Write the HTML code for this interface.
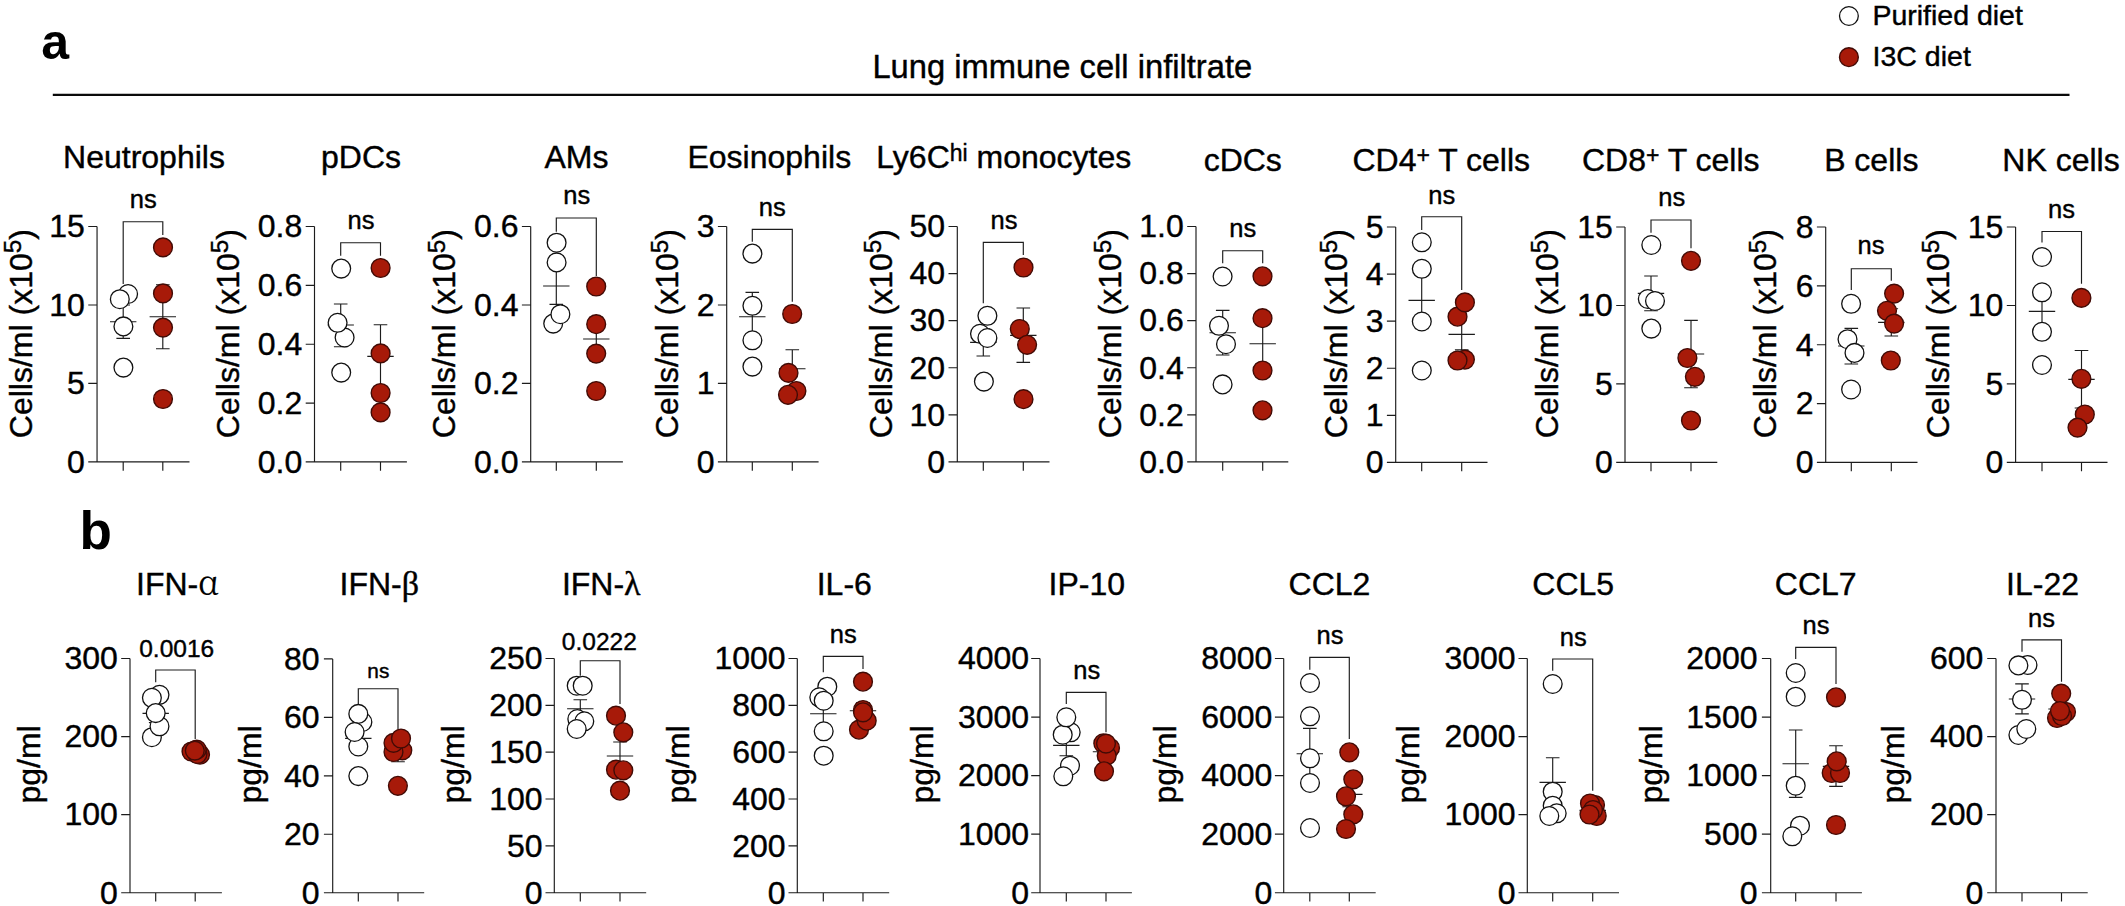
<!DOCTYPE html>
<html lang="en"><head><meta charset="utf-8"><title>Lung immune cell infiltrate</title>
<style>
html,body{margin:0;padding:0;background:#fff}
body{width:2125px;height:906px;overflow:hidden}
svg{display:block;font-family:"Liberation Sans",Arial,sans-serif;fill:#000}
text{stroke:#000;stroke-width:0.4px}
.t{font-size:32px}
.k{font-size:32.0px}
.y{font-size:32px}
.l{fill:none;stroke:#1c1c1c;stroke-width:1.15}
.w{fill:#fff;stroke:#111;stroke-width:1.3}
.r{fill:#a71a09;stroke:#420b06;stroke-width:1.4}
.lg{font-size:28.5px}
.pn{font-weight:bold;stroke:none}
</style></head><body>
<svg width="2125" height="906" viewBox="0 0 2125 906">
<rect width="2125" height="906" fill="#fff"/>
<text class="pn" x="41.3" y="59.2" font-size="50">a</text>
<text class="pn" x="79.6" y="548.5" font-size="53">b</text>
<text class="t" x="1062.3" y="77.5" style="font-size:32.7px" text-anchor="middle">Lung immune cell infiltrate</text>
<path d="M52.8 94.9H2069.5" stroke="#0a0a0a" stroke-width="2.1" fill="none"/>
<circle class="w" cx="1848.9" cy="16" r="9.4"/>
<circle class="r" cx="1848.9" cy="57.2" r="9.4"/>
<text class="lg" x="1872.4" y="25.3">Purified diet</text>
<text class="lg" x="1872.6" y="66.3">I3C diet</text>
<g><text class="t" x="144" y="168.2" text-anchor="middle">Neutrophils</text><path class="l" d="M97.05 226.5V461.9M88.25 461.9H189.5M88.25 226.5H97.05M88.25 304.97H97.05M88.25 383.43H97.05M123.2 461.9v8.8M162.8 461.9v8.8"/><text class="k" x="84.85" y="237.3" text-anchor="end">15</text><text class="k" x="84.85" y="315.77" text-anchor="end">10</text><text class="k" x="84.85" y="394.23" text-anchor="end">5</text><text class="k" x="84.85" y="472.7" text-anchor="end">0</text><text class="y" transform="translate(31.6 438.2) rotate(-90)">Cells/ml (x10<tspan font-size="24.5" dy="-10.5">5</tspan><tspan dy="10.5">)</tspan></text><path class="l" d="M110 321.7h26.4M123.2 305V338.3M116.4 305h13.6M116.4 338.3h13.6M149.6 316.7h26.4M162.8 284.7V348.7M156 284.7h13.6M156 348.7h13.6"/><path class="l" d="M123.2 284V221.7H162.8V235"/><circle class="w" cx="128.1" cy="294" r="9.4"/><circle class="w" cx="119.8" cy="299.2" r="9.4"/><circle class="w" cx="123.4" cy="326.4" r="9.4"/><circle class="w" cx="123.4" cy="367.6" r="9.4"/><circle class="r" cx="163" cy="247.4" r="9.4"/><circle class="r" cx="163" cy="293.4" r="9.4"/><circle class="r" cx="163" cy="327.6" r="9.4"/><circle class="r" cx="163" cy="399" r="9.4"/><text class="s" x="143.3" y="207.5" font-size="25.5" text-anchor="middle">ns</text></g>
<g><text class="t" x="361" y="168.2" text-anchor="middle">pDCs</text><path class="l" d="M314.5 226.5V461.9M305.7 461.9H406.9M305.7 226.5H314.5M305.7 285.35H314.5M305.7 344.2H314.5M305.7 403.05H314.5M340.7 461.9v8.8M380.5 461.9v8.8"/><text class="k" x="302.3" y="237.3" text-anchor="end">0.8</text><text class="k" x="302.3" y="296.15" text-anchor="end">0.6</text><text class="k" x="302.3" y="355" text-anchor="end">0.4</text><text class="k" x="302.3" y="413.85" text-anchor="end">0.2</text><text class="k" x="302.3" y="472.7" text-anchor="end">0.0</text><text class="y" transform="translate(238.6 438.2) rotate(-90)">Cells/ml (x10<tspan font-size="24.5" dy="-10.5">5</tspan><tspan dy="10.5">)</tspan></text><path class="l" d="M327.5 325h26.4M340.7 304V346.7M333.9 304h13.6M333.9 346.7h13.6M367.3 356.3h26.4M380.5 324.7V388M373.7 324.7h13.6M373.7 388h13.6"/><path class="l" d="M340.7 255.7V242.7H380.5V255.7"/><circle class="w" cx="341.2" cy="268.6" r="9.4"/><circle class="w" cx="344.6" cy="337.5" r="9.4"/><circle class="w" cx="337.6" cy="322.8" r="9.4"/><circle class="w" cx="341.2" cy="372.6" r="9.4"/><circle class="r" cx="380.6" cy="268" r="9.4"/><circle class="r" cx="380.6" cy="353.4" r="9.4"/><circle class="r" cx="380.6" cy="393" r="9.4"/><circle class="r" cx="380.6" cy="412.4" r="9.4"/><text class="s" x="361" y="229.1" font-size="25.5" text-anchor="middle">ns</text></g>
<g><text class="t" x="576.5" y="168.2" text-anchor="middle">AMs</text><path class="l" d="M530.7 226.5V461.9M521.9 461.9H622.9M521.9 226.5H530.7M521.9 304.97H530.7M521.9 383.43H530.7M556.3 461.9v8.8M596.3 461.9v8.8"/><text class="k" x="518.5" y="237.3" text-anchor="end">0.6</text><text class="k" x="518.5" y="315.77" text-anchor="end">0.4</text><text class="k" x="518.5" y="394.23" text-anchor="end">0.2</text><text class="k" x="518.5" y="472.7" text-anchor="end">0.0</text><text class="y" transform="translate(455.4 438.2) rotate(-90)">Cells/ml (x10<tspan font-size="24.5" dy="-10.5">5</tspan><tspan dy="10.5">)</tspan></text><path class="l" d="M543.1 286h26.4M556.3 267.7V304.3M549.5 267.7h13.6M549.5 304.3h13.6M583.1 339h26.4M596.3 317V361M589.5 317h13.6M589.5 361h13.6"/><path class="l" d="M556.3 231.7V218H596.3V276"/><circle class="w" cx="556.6" cy="242.7" r="9.4"/><circle class="w" cx="556.6" cy="262.4" r="9.4"/><circle class="w" cx="553.2" cy="323.6" r="9.4"/><circle class="w" cx="560.4" cy="314.2" r="9.4"/><circle class="r" cx="596.2" cy="286.5" r="9.4"/><circle class="r" cx="596.2" cy="324.2" r="9.4"/><circle class="r" cx="596.2" cy="353.6" r="9.4"/><circle class="r" cx="596.2" cy="391" r="9.4"/><text class="s" x="576.7" y="203.8" font-size="25.5" text-anchor="middle">ns</text></g>
<g><text class="t" x="769.3" y="168.2" text-anchor="middle">Eosinophils</text><path class="l" d="M726.7 226.5V461.9M717.9 461.9H818.6M717.9 226.5H726.7M717.9 304.97H726.7M717.9 383.43H726.7M752.3 461.9v8.8M792.3 461.9v8.8"/><text class="k" x="714.5" y="237.3" text-anchor="end">3</text><text class="k" x="714.5" y="315.77" text-anchor="end">2</text><text class="k" x="714.5" y="394.23" text-anchor="end">1</text><text class="k" x="714.5" y="472.7" text-anchor="end">0</text><text class="y" transform="translate(678 438.2) rotate(-90)">Cells/ml (x10<tspan font-size="24.5" dy="-10.5">5</tspan><tspan dy="10.5">)</tspan></text><path class="l" d="M739.1 316.7h26.4M752.3 292.3V341M745.5 292.3h13.6M745.5 341h13.6M779.1 368.7h26.4M792.3 349.7V388M785.5 349.7h13.6M785.5 388h13.6"/><path class="l" d="M752.3 241.7V229.3H792.3V301.7"/><circle class="w" cx="752.4" cy="253.6" r="9.4"/><circle class="w" cx="752.4" cy="305.8" r="9.4"/><circle class="w" cx="752.4" cy="340.3" r="9.4"/><circle class="w" cx="752.4" cy="366.6" r="9.4"/><circle class="r" cx="792.2" cy="314" r="9.4"/><circle class="r" cx="788.5" cy="372.9" r="9.4"/><circle class="r" cx="796.4" cy="391" r="9.4"/><circle class="r" cx="788" cy="394.8" r="9.4"/><text class="s" x="772.3" y="215.8" font-size="25.5" text-anchor="middle">ns</text></g>
<g><text class="t" x="1003.75" y="168.2" text-anchor="middle">Ly6C<tspan font-size="23" dy="-7.7">hi</tspan><tspan dy="7.7"> monocytes</tspan></text><path class="l" d="M957.3 226.5V461.9M948.5 461.9H1049.5M948.5 226.5H957.3M948.5 273.58H957.3M948.5 320.66H957.3M948.5 367.74H957.3M948.5 414.82H957.3M983.3 461.9v8.8M1023.3 461.9v8.8"/><text class="k" x="945.1" y="237.3" text-anchor="end">50</text><text class="k" x="945.1" y="284.38" text-anchor="end">40</text><text class="k" x="945.1" y="331.46" text-anchor="end">30</text><text class="k" x="945.1" y="378.54" text-anchor="end">20</text><text class="k" x="945.1" y="425.62" text-anchor="end">10</text><text class="k" x="945.1" y="472.7" text-anchor="end">0</text><text class="y" transform="translate(891.5 438.2) rotate(-90)">Cells/ml (x10<tspan font-size="24.5" dy="-10.5">5</tspan><tspan dy="10.5">)</tspan></text><path class="l" d="M970.1 342.3h26.4M983.3 328.7V356M976.5 328.7h13.6M976.5 356h13.6M1010.1 335.3h26.4M1023.3 308V362.3M1016.5 308h13.6M1016.5 362.3h13.6"/><path class="l" d="M983.3 303.3V242.3H1023.3V255"/><circle class="w" cx="987.4" cy="315.8" r="9.4"/><circle class="w" cx="980" cy="333.8" r="9.4"/><circle class="w" cx="987.4" cy="338" r="9.4"/><circle class="w" cx="983.9" cy="381.6" r="9.4"/><circle class="r" cx="1023.5" cy="267.5" r="9.4"/><circle class="r" cx="1019.8" cy="329" r="9.4"/><circle class="r" cx="1027.1" cy="344.8" r="9.4"/><circle class="r" cx="1023.5" cy="399.2" r="9.4"/><text class="s" x="1004" y="229.1" font-size="25.5" text-anchor="middle">ns</text></g>
<g><text class="t" x="1242.75" y="171.1" text-anchor="middle">cDCs</text><path class="l" d="M1196 226.5V461.9M1187.2 461.9H1288.3M1187.2 226.5H1196M1187.2 273.58H1196M1187.2 320.66H1196M1187.2 367.74H1196M1187.2 414.82H1196M1222.7 461.9v8.8M1262.7 461.9v8.8"/><text class="k" x="1183.8" y="237.3" text-anchor="end">1.0</text><text class="k" x="1183.8" y="284.38" text-anchor="end">0.8</text><text class="k" x="1183.8" y="331.46" text-anchor="end">0.6</text><text class="k" x="1183.8" y="378.54" text-anchor="end">0.4</text><text class="k" x="1183.8" y="425.62" text-anchor="end">0.2</text><text class="k" x="1183.8" y="472.7" text-anchor="end">0.0</text><text class="y" transform="translate(1121 438.2) rotate(-90)">Cells/ml (x10<tspan font-size="24.5" dy="-10.5">5</tspan><tspan dy="10.5">)</tspan></text><path class="l" d="M1209.5 332.7h26.4M1222.7 310.3V355M1215.9 310.3h13.6M1215.9 355h13.6M1249.5 343.7h26.4M1262.7 317V370M1255.9 317h13.6M1255.9 370h13.6"/><path class="l" d="M1222.7 263.3V250.7H1262.7V263.3"/><circle class="w" cx="1222.6" cy="276.5" r="9.4"/><circle class="w" cx="1226" cy="344.2" r="9.4"/><circle class="w" cx="1219" cy="325.8" r="9.4"/><circle class="w" cx="1222.6" cy="384.4" r="9.4"/><circle class="r" cx="1262.5" cy="276.3" r="9.4"/><circle class="r" cx="1262.5" cy="318.2" r="9.4"/><circle class="r" cx="1262.5" cy="370.5" r="9.4"/><circle class="r" cx="1262.5" cy="410.3" r="9.4"/><text class="s" x="1242.7" y="236.8" font-size="25.5" text-anchor="middle">ns</text></g>
<g><text class="t" x="1441.25" y="171.1" text-anchor="middle">CD4<tspan font-size="23" dy="-8.5">+</tspan><tspan dy="8.5"> T cells</tspan></text><path class="l" d="M1395.7 227V462.4M1386.9 462.4H1487.5M1386.9 227H1395.7M1386.9 274.08H1395.7M1386.9 321.16H1395.7M1386.9 368.24H1395.7M1386.9 415.32H1395.7M1421.7 462.4v8.8M1461.7 462.4v8.8"/><text class="k" x="1383.5" y="237.8" text-anchor="end">5</text><text class="k" x="1383.5" y="284.88" text-anchor="end">4</text><text class="k" x="1383.5" y="331.96" text-anchor="end">3</text><text class="k" x="1383.5" y="379.04" text-anchor="end">2</text><text class="k" x="1383.5" y="426.12" text-anchor="end">1</text><text class="k" x="1383.5" y="473.2" text-anchor="end">0</text><text class="y" transform="translate(1347 438.2) rotate(-90)">Cells/ml (x10<tspan font-size="24.5" dy="-10.5">5</tspan><tspan dy="10.5">)</tspan></text><path class="l" d="M1408.5 300.3h26.4M1421.7 272V328.6M1414.9 272h13.6M1414.9 328.6h13.6M1448.5 334.3h26.4M1461.7 319V349.8M1454.9 349.8h13.6"/><path class="l" d="M1421.7 230V216.7H1461.7V290"/><circle class="w" cx="1421.8" cy="242.3" r="9.4"/><circle class="w" cx="1421.8" cy="268.8" r="9.4"/><circle class="w" cx="1421.8" cy="321.5" r="9.4"/><circle class="w" cx="1421.8" cy="370.5" r="9.4"/><circle class="r" cx="1457.5" cy="316.7" r="9.4"/><circle class="r" cx="1464.9" cy="302.4" r="9.4"/><circle class="r" cx="1464.9" cy="359.6" r="9.4"/><circle class="r" cx="1457.5" cy="360.5" r="9.4"/><text class="s" x="1441.7" y="204.1" font-size="25.5" text-anchor="middle">ns</text></g>
<g><text class="t" x="1670.75" y="171.1" text-anchor="middle">CD8<tspan font-size="23" dy="-8.5">+</tspan><tspan dy="8.5"> T cells</tspan></text><path class="l" d="M1625 227V462.4M1616.2 462.4H1717.3M1616.2 227H1625M1616.2 305.47H1625M1616.2 383.93H1625M1651 462.4v8.8M1691 462.4v8.8"/><text class="k" x="1612.8" y="237.8" text-anchor="end">15</text><text class="k" x="1612.8" y="316.27" text-anchor="end">10</text><text class="k" x="1612.8" y="394.73" text-anchor="end">5</text><text class="k" x="1612.8" y="473.2" text-anchor="end">0</text><text class="y" transform="translate(1558.3 438.2) rotate(-90)">Cells/ml (x10<tspan font-size="24.5" dy="-10.5">5</tspan><tspan dy="10.5">)</tspan></text><path class="l" d="M1637.8 293.3h26.4M1651 276V310.7M1644.2 276h13.6M1644.2 310.7h13.6M1677.8 354h26.4M1691 320.3V387.7M1684.2 320.3h13.6M1684.2 387.7h13.6"/><path class="l" d="M1651 232.7V220H1691V248.3"/><circle class="w" cx="1651.3" cy="245" r="9.4"/><circle class="w" cx="1647.8" cy="299" r="9.4"/><circle class="w" cx="1655" cy="301" r="9.4"/><circle class="w" cx="1651.3" cy="328.6" r="9.4"/><circle class="r" cx="1691" cy="260.8" r="9.4"/><circle class="r" cx="1687.4" cy="358" r="9.4"/><circle class="r" cx="1694.9" cy="376.8" r="9.4"/><circle class="r" cx="1691" cy="420.5" r="9.4"/><text class="s" x="1671.7" y="205.8" font-size="25.5" text-anchor="middle">ns</text></g>
<g><text class="t" x="1871.25" y="171.1" text-anchor="middle">B cells</text><path class="l" d="M1825.7 227V462.4M1816.9 462.4H1917.5M1816.9 227H1825.7M1816.9 285.85H1825.7M1816.9 344.7H1825.7M1816.9 403.55H1825.7M1851.3 462.4v8.8M1891.3 462.4v8.8"/><text class="k" x="1813.5" y="237.8" text-anchor="end">8</text><text class="k" x="1813.5" y="296.65" text-anchor="end">6</text><text class="k" x="1813.5" y="355.5" text-anchor="end">4</text><text class="k" x="1813.5" y="414.35" text-anchor="end">2</text><text class="k" x="1813.5" y="473.2" text-anchor="end">0</text><text class="y" transform="translate(1776.3 438.2) rotate(-90)">Cells/ml (x10<tspan font-size="24.5" dy="-10.5">5</tspan><tspan dy="10.5">)</tspan></text><path class="l" d="M1838.1 346h26.4M1851.3 328.3V364M1844.5 328.3h13.6M1844.5 364h13.6M1878.1 322.3h26.4M1891.3 308.7V336M1884.5 308.7h13.6M1884.5 336h13.6"/><path class="l" d="M1851.3 290V268.7H1891.3V280.7"/><circle class="w" cx="1851.1" cy="303.8" r="9.4"/><circle class="w" cx="1847.5" cy="339.2" r="9.4"/><circle class="w" cx="1854.5" cy="352.9" r="9.4"/><circle class="w" cx="1851.1" cy="389.5" r="9.4"/><circle class="r" cx="1894.1" cy="293.6" r="9.4"/><circle class="r" cx="1887" cy="310.8" r="9.4"/><circle class="r" cx="1894.1" cy="323.6" r="9.4"/><circle class="r" cx="1890.8" cy="360.5" r="9.4"/><text class="s" x="1871" y="254.1" font-size="25.5" text-anchor="middle">ns</text></g>
<g><text class="t" x="2061" y="171.1" text-anchor="middle">NK cells</text><path class="l" d="M2015.6 227V462.4M2006.8 462.4H2107.5M2006.8 227H2015.6M2006.8 305.47H2015.6M2006.8 383.93H2015.6M2042 462.4v8.8M2081.5 462.4v8.8"/><text class="k" x="2003.4" y="237.8" text-anchor="end">15</text><text class="k" x="2003.4" y="316.27" text-anchor="end">10</text><text class="k" x="2003.4" y="394.73" text-anchor="end">5</text><text class="k" x="2003.4" y="473.2" text-anchor="end">0</text><text class="y" transform="translate(1949.2 438.2) rotate(-90)">Cells/ml (x10<tspan font-size="24.5" dy="-10.5">5</tspan><tspan dy="10.5">)</tspan></text><path class="l" d="M2028.8 311.3h26.4M2042 288V334.6M2035.2 288h13.6M2035.2 334.6h13.6M2068.3 379.3h26.4M2081.5 350.5V408M2074.7 350.5h13.6M2074.7 408h13.6"/><path class="l" d="M2042 242.6V231.5H2081.5V283.8"/><circle class="w" cx="2042" cy="257" r="9.4"/><circle class="w" cx="2042" cy="292.3" r="9.4"/><circle class="w" cx="2042" cy="331.8" r="9.4"/><circle class="w" cx="2042" cy="365" r="9.4"/><circle class="r" cx="2081.4" cy="297.9" r="9.4"/><circle class="r" cx="2081.4" cy="378.8" r="9.4"/><circle class="r" cx="2084.8" cy="414.5" r="9.4"/><circle class="r" cx="2077.5" cy="427.6" r="9.4"/><text class="s" x="2061.5" y="217.8" font-size="25.5" text-anchor="middle">ns</text></g>
<g><text class="t" x="177.5" y="594.5" text-anchor="middle">IFN-<tspan font-family="'Noto Serif CJK SC','Liberation Serif',serif" font-size="34" stroke-width="0.2">α</tspan></text><path class="l" d="M130 658.5V892.7M121.2 892.7H221.9M121.2 658.5H130M121.2 736.57H130M121.2 814.63H130M155.7 892.7v8.8M195.2 892.7v8.8"/><text class="k" x="117.8" y="669.3" text-anchor="end">300</text><text class="k" x="117.8" y="747.37" text-anchor="end">200</text><text class="k" x="117.8" y="825.43" text-anchor="end">100</text><text class="k" x="117.8" y="903.5" text-anchor="end">0</text><text class="y" transform="translate(40 803.6) rotate(-90)">pg/ml</text><path class="l" d="M142.5 713.3h26.4M155.7 704V722.6M148.9 704h13.6M148.9 722.6h13.6M182 751.8h26.4M195.2 751V752.6M188.4 751h13.6M188.4 752.6h13.6"/><path class="l" d="M155.7 682.3V670H195.2V739"/><circle class="w" cx="151.9" cy="737.2" r="9.4"/><circle class="w" cx="159.5" cy="726.3" r="9.4"/><circle class="w" cx="159.5" cy="694.8" r="9.4"/><circle class="w" cx="151.9" cy="697.8" r="9.4"/><circle class="w" cx="155.7" cy="713.1" r="9.4"/><circle class="r" cx="200" cy="754.7" r="9.4"/><circle class="r" cx="191.5" cy="751.5" r="9.4"/><circle class="r" cx="197.5" cy="754" r="9.4"/><circle class="r" cx="196.7" cy="749.7" r="9.4"/><circle class="r" cx="194.8" cy="750.6" r="9.4"/><text class="s" x="176.7" y="657" font-size="24.5" text-anchor="middle">0.0016</text></g>
<g><text class="t" x="379.25" y="594.5" text-anchor="middle">IFN-<tspan font-family="'Liberation Serif','DejaVu Serif',serif" font-size="34">β</tspan></text><path class="l" d="M332.7 658.9V892.7M323.9 892.7H424.2M323.9 658.9H332.7M323.9 717.35H332.7M323.9 775.8H332.7M323.9 834.25H332.7M358.3 892.7v8.8M398 892.7v8.8"/><text class="k" x="319.5" y="669.7" text-anchor="end">80</text><text class="k" x="319.5" y="728.15" text-anchor="end">60</text><text class="k" x="319.5" y="786.6" text-anchor="end">40</text><text class="k" x="319.5" y="845.05" text-anchor="end">20</text><text class="k" x="319.5" y="903.5" text-anchor="end">0</text><text class="y" transform="translate(261 803.6) rotate(-90)">pg/ml</text><path class="l" d="M345.1 738.3h26.4M358.3 728V748.6M351.5 728h13.6M351.5 748.6h13.6M384.8 754h26.4M398 746.3V761.7M391.2 746.3h13.6M391.2 761.7h13.6"/><path class="l" d="M358.3 704V688.7H398V729"/><circle class="w" cx="358.3" cy="776.1" r="9.4"/><circle class="w" cx="358.3" cy="746.5" r="9.4"/><circle class="w" cx="362.4" cy="722" r="9.4"/><circle class="w" cx="358.3" cy="713.9" r="9.4"/><circle class="w" cx="354.6" cy="732" r="9.4"/><circle class="r" cx="397.9" cy="785.8" r="9.4"/><circle class="r" cx="402.3" cy="750.3" r="9.4"/><circle class="r" cx="393.5" cy="752" r="9.4"/><circle class="r" cx="393.5" cy="742.9" r="9.4"/><circle class="r" cx="401" cy="738.5" r="9.4"/><text class="s" x="378.3" y="678.1" font-size="20.8" text-anchor="middle">ns</text></g>
<g><text class="t" x="601.25" y="594.5" text-anchor="middle">IFN-<tspan font-family="'Liberation Serif','DejaVu Serif',serif" font-size="34">λ</tspan></text><path class="l" d="M554.3 658.5V892.7M545.5 892.7H646.2M545.5 658.5H554.3M545.5 705.34H554.3M545.5 752.18H554.3M545.5 799.02H554.3M545.5 845.86H554.3M580.3 892.7v8.8M620 892.7v8.8"/><text class="k" x="542.6" y="669.3" text-anchor="end">250</text><text class="k" x="542.6" y="716.14" text-anchor="end">200</text><text class="k" x="542.6" y="762.98" text-anchor="end">150</text><text class="k" x="542.6" y="809.82" text-anchor="end">100</text><text class="k" x="542.6" y="856.66" text-anchor="end">50</text><text class="k" x="542.6" y="903.5" text-anchor="end">0</text><text class="y" transform="translate(464.4 803.6) rotate(-90)">pg/ml</text><path class="l" d="M567.1 708.7h26.4M580.3 699.7V717.7M573.5 699.7h13.6M573.5 717.7h13.6M606.8 756h26.4M620 742V770M613.2 742h13.6M613.2 770h13.6"/><path class="l" d="M580.3 675.7V660.7H620V704"/><circle class="w" cx="576.7" cy="685.7" r="9.4"/><circle class="w" cx="582.7" cy="685.7" r="9.4"/><circle class="w" cx="577.3" cy="719" r="9.4"/><circle class="w" cx="584.3" cy="721.3" r="9.4"/><circle class="w" cx="576.7" cy="729" r="9.4"/><circle class="r" cx="616" cy="715.7" r="9.4"/><circle class="r" cx="623.3" cy="732.3" r="9.4"/><circle class="r" cx="616" cy="769.7" r="9.4"/><circle class="r" cx="623.3" cy="770.3" r="9.4"/><circle class="r" cx="620" cy="790.7" r="9.4"/><text class="s" x="599.3" y="650.1" font-size="24.5" text-anchor="middle">0.0222</text></g>
<g><text class="t" x="844.3" y="594.5" text-anchor="middle">IL-6</text><path class="l" d="M797.3 658.5V892.7M788.5 892.7H889.2M788.5 658.5H797.3M788.5 705.34H797.3M788.5 752.18H797.3M788.5 799.02H797.3M788.5 845.86H797.3M823.3 892.7v8.8M863 892.7v8.8"/><text class="k" x="785.6" y="669.3" text-anchor="end">1000</text><text class="k" x="785.6" y="716.14" text-anchor="end">800</text><text class="k" x="785.6" y="762.98" text-anchor="end">600</text><text class="k" x="785.6" y="809.82" text-anchor="end">400</text><text class="k" x="785.6" y="856.66" text-anchor="end">200</text><text class="k" x="785.6" y="903.5" text-anchor="end">0</text><text class="y" transform="translate(689.3 803.6) rotate(-90)">pg/ml</text><path class="l" d="M810.1 713.7h26.4M823.3 701V726.4M816.5 701h13.6M816.5 726.4h13.6M849.8 710.7h26.4M863 702.5V719M856.2 702.5h13.6M856.2 719h13.6"/><path class="l" d="M823.3 672.3V656.3H863V669"/><circle class="w" cx="827.3" cy="686.7" r="9.4"/><circle class="w" cx="819.3" cy="697.3" r="9.4"/><circle class="w" cx="823.7" cy="700.7" r="9.4"/><circle class="w" cx="823.7" cy="731.3" r="9.4"/><circle class="w" cx="823.7" cy="755.7" r="9.4"/><circle class="r" cx="863" cy="681.7" r="9.4"/><circle class="r" cx="859" cy="729.7" r="9.4"/><circle class="r" cx="866.7" cy="720.7" r="9.4"/><circle class="r" cx="863" cy="710" r="9.4"/><circle class="r" cx="863" cy="712.3" r="9.4"/><text class="s" x="843.3" y="642.9" font-size="25.5" text-anchor="middle">ns</text></g>
<g><text class="t" x="1086.75" y="594.5" text-anchor="middle">IP-10</text><path class="l" d="M1040 658.5V892.7M1031.2 892.7H1131.9M1031.2 658.5H1040M1031.2 717.05H1040M1031.2 775.6H1040M1031.2 834.15H1040M1066.3 892.7v8.8M1106 892.7v8.8"/><text class="k" x="1029.1" y="669.3" text-anchor="end">4000</text><text class="k" x="1029.1" y="727.85" text-anchor="end">3000</text><text class="k" x="1029.1" y="786.4" text-anchor="end">2000</text><text class="k" x="1029.1" y="844.95" text-anchor="end">1000</text><text class="k" x="1029.1" y="903.5" text-anchor="end">0</text><text class="y" transform="translate(933 803.6) rotate(-90)">pg/ml</text><path class="l" d="M1053.1 745.3h26.4M1066.3 735V755.7M1059.5 735h13.6M1059.5 755.7h13.6M1092.8 751.7h26.4M1106 746.5V757M1099.2 746.5h13.6M1099.2 757h13.6"/><path class="l" d="M1066.3 704V692.3H1106V732.3"/><circle class="w" cx="1070.7" cy="732.3" r="9.4"/><circle class="w" cx="1062.7" cy="734.7" r="9.4"/><circle class="w" cx="1066.3" cy="717.3" r="9.4"/><circle class="w" cx="1070" cy="765.7" r="9.4"/><circle class="w" cx="1063.3" cy="776.3" r="9.4"/><circle class="r" cx="1110" cy="748" r="9.4"/><circle class="r" cx="1103.3" cy="743.3" r="9.4"/><circle class="r" cx="1106.7" cy="755.7" r="9.4"/><circle class="r" cx="1106" cy="743.6" r="9.4"/><circle class="r" cx="1104" cy="771.3" r="9.4"/><text class="s" x="1086.7" y="678.8" font-size="25.5" text-anchor="middle">ns</text></g>
<g><text class="t" x="1329.5" y="594.5" text-anchor="middle">CCL2</text><path class="l" d="M1283.7 658.5V892.7M1274.9 892.7H1375.7M1274.9 658.5H1283.7M1274.9 717.05H1283.7M1274.9 775.6H1283.7M1274.9 834.15H1283.7M1309.8 892.7v8.8M1349.3 892.7v8.8"/><text class="k" x="1272.4" y="669.3" text-anchor="end">8000</text><text class="k" x="1272.4" y="727.85" text-anchor="end">6000</text><text class="k" x="1272.4" y="786.4" text-anchor="end">4000</text><text class="k" x="1272.4" y="844.95" text-anchor="end">2000</text><text class="k" x="1272.4" y="903.5" text-anchor="end">0</text><text class="y" transform="translate(1175.5 803.6) rotate(-90)">pg/ml</text><path class="l" d="M1296.6 753.7h26.4M1309.8 728.3V779M1303 728.3h13.6M1303 779h13.6M1336.1 794.3h26.4M1349.3 782V806.7M1342.5 806.7h13.6"/><path class="l" d="M1309.8 669.7V657.3H1349.3V739"/><circle class="w" cx="1310" cy="683" r="9.4"/><circle class="w" cx="1310" cy="716.3" r="9.4"/><circle class="w" cx="1310" cy="758.3" r="9.4"/><circle class="w" cx="1310" cy="783" r="9.4"/><circle class="w" cx="1310" cy="828" r="9.4"/><circle class="r" cx="1349.3" cy="752.3" r="9.4"/><circle class="r" cx="1353.3" cy="779.3" r="9.4"/><circle class="r" cx="1346" cy="796.3" r="9.4"/><circle class="r" cx="1353.3" cy="814.3" r="9.4"/><circle class="r" cx="1346" cy="829" r="9.4"/><text class="s" x="1330" y="644.1" font-size="25.5" text-anchor="middle">ns</text></g>
<g><text class="t" x="1573.25" y="594.5" text-anchor="middle">CCL5</text><path class="l" d="M1527.3 658.5V892.7M1518.5 892.7H1619M1518.5 658.5H1527.3M1518.5 736.57H1527.3M1518.5 814.63H1527.3M1552.7 892.7v8.8M1592.7 892.7v8.8"/><text class="k" x="1515.6" y="669.3" text-anchor="end">3000</text><text class="k" x="1515.6" y="747.37" text-anchor="end">2000</text><text class="k" x="1515.6" y="825.43" text-anchor="end">1000</text><text class="k" x="1515.6" y="903.5" text-anchor="end">0</text><text class="y" transform="translate(1419 803.6) rotate(-90)">pg/ml</text><path class="l" d="M1539.5 782.3h26.4M1552.7 757.7V807M1545.9 757.7h13.6M1545.9 807h13.6M1579.5 810.3h26.4M1592.7 807.5V813M1585.9 807.5h13.6M1585.9 813h13.6"/><path class="l" d="M1552.7 670.7V659H1592.7V790.7"/><circle class="w" cx="1552.7" cy="684" r="9.4"/><circle class="w" cx="1552.7" cy="791.7" r="9.4"/><circle class="w" cx="1552.7" cy="805.7" r="9.4"/><circle class="w" cx="1556.7" cy="813.3" r="9.4"/><circle class="w" cx="1549.3" cy="816" r="9.4"/><circle class="r" cx="1595" cy="805" r="9.4"/><circle class="r" cx="1590" cy="803.5" r="9.4"/><circle class="r" cx="1596.7" cy="816" r="9.4"/><circle class="r" cx="1593" cy="810" r="9.4"/><circle class="r" cx="1589.5" cy="814.5" r="9.4"/><text class="s" x="1573.3" y="645.5" font-size="25.5" text-anchor="middle">ns</text></g>
<g><text class="t" x="1815.75" y="594.5" text-anchor="middle">CCL7</text><path class="l" d="M1770.7 658.5V892.7M1761.9 892.7H1861.9M1761.9 658.5H1770.7M1761.9 717.05H1770.7M1761.9 775.6H1770.7M1761.9 834.15H1770.7M1795.7 892.7v8.8M1836 892.7v8.8"/><text class="k" x="1757.5" y="669.3" text-anchor="end">2000</text><text class="k" x="1757.5" y="727.85" text-anchor="end">1500</text><text class="k" x="1757.5" y="786.4" text-anchor="end">1000</text><text class="k" x="1757.5" y="844.95" text-anchor="end">500</text><text class="k" x="1757.5" y="903.5" text-anchor="end">0</text><text class="y" transform="translate(1662 803.6) rotate(-90)">pg/ml</text><path class="l" d="M1782.5 763.7h26.4M1795.7 730V797.3M1788.9 730h13.6M1788.9 797.3h13.6M1822.8 766.3h26.4M1836 745.7V786.3M1829.2 745.7h13.6M1829.2 786.3h13.6"/><path class="l" d="M1795.7 659V647.3H1836V684"/><circle class="w" cx="1795.7" cy="673" r="9.4"/><circle class="w" cx="1795.7" cy="696.7" r="9.4"/><circle class="w" cx="1795.7" cy="785.7" r="9.4"/><circle class="w" cx="1800" cy="825.7" r="9.4"/><circle class="w" cx="1792.3" cy="836.3" r="9.4"/><circle class="r" cx="1836" cy="697.3" r="9.4"/><circle class="r" cx="1831.7" cy="773" r="9.4"/><circle class="r" cx="1840" cy="773" r="9.4"/><circle class="r" cx="1836.7" cy="761.3" r="9.4"/><circle class="r" cx="1836" cy="825" r="9.4"/><text class="s" x="1816" y="634.1" font-size="25.5" text-anchor="middle">ns</text></g>
<g><text class="t" x="2042.5" y="594.5" text-anchor="middle">IL-22</text><path class="l" d="M1996 658.5V892.7M1987.2 892.7H2087.7M1987.2 658.5H1996M1987.2 736.57H1996M1987.2 814.63H1996M2022 892.7v8.8M2061.5 892.7v8.8"/><text class="k" x="1983.3" y="669.3" text-anchor="end">600</text><text class="k" x="1983.3" y="747.37" text-anchor="end">400</text><text class="k" x="1983.3" y="825.43" text-anchor="end">200</text><text class="k" x="1983.3" y="903.5" text-anchor="end">0</text><text class="y" transform="translate(1904 803.6) rotate(-90)">pg/ml</text><path class="l" d="M2008.8 699h26.4M2022 683.8V713.8M2015.2 683.8h13.6M2015.2 713.8h13.6M2048.3 709h26.4M2061.5 703V715M2054.7 703h13.6M2054.7 715h13.6"/><path class="l" d="M2022 651.8V639.9H2061.5V681.8"/><circle class="w" cx="2027.5" cy="665" r="9.4"/><circle class="w" cx="2018.4" cy="665.4" r="9.4"/><circle class="w" cx="2022" cy="699.8" r="9.4"/><circle class="w" cx="2018.4" cy="735" r="9.4"/><circle class="w" cx="2026.3" cy="729" r="9.4"/><circle class="r" cx="2061.2" cy="693.6" r="9.4"/><circle class="r" cx="2066" cy="712" r="9.4"/><circle class="r" cx="2057" cy="718" r="9.4"/><circle class="r" cx="2062" cy="716" r="9.4"/><circle class="r" cx="2060" cy="711" r="9.4"/><text class="s" x="2041.5" y="626.7" font-size="25.5" text-anchor="middle">ns</text></g>
</svg>
</body></html>
